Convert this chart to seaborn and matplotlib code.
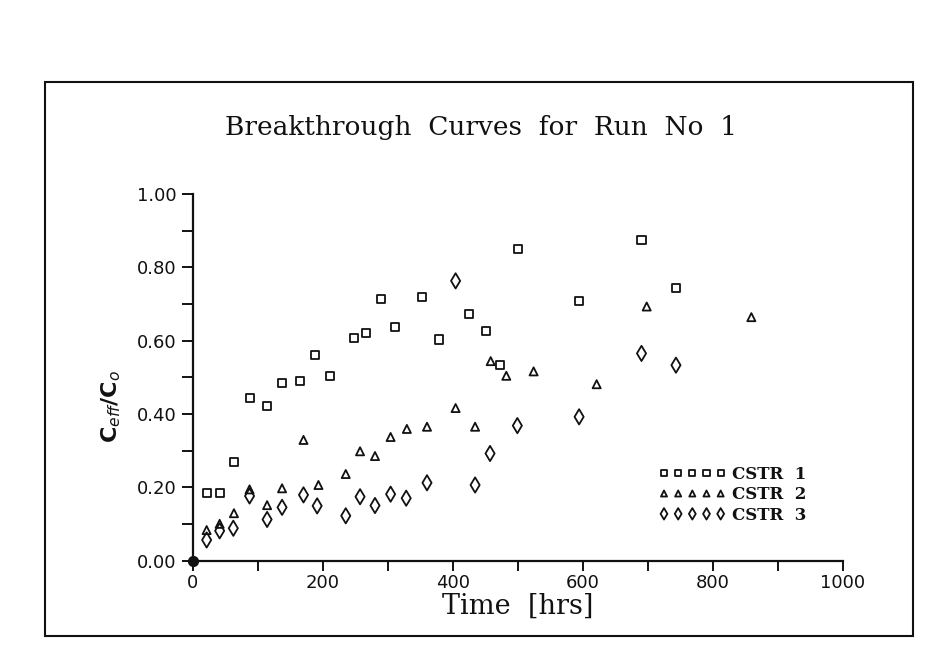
import numpy as np
import pandas as pd
import matplotlib
matplotlib.use("Agg")
import matplotlib.pyplot as plt
import seaborn as sns
from matplotlib.patches import Rectangle
from matplotlib.ticker import MultipleLocator, FormatStrFormatter

sns.set_style("ticks")
plt.rcParams['font.family'] = ['DejaVu Sans']
plt.rcParams['mathtext.fontset'] = 'dejavusans'

# ---- data ----
cstr1_t = [21, 41, 63, 87, 114, 137, 165, 188, 211, 247, 266, 289, 311, 353, 379,
           425, 451, 473, 500, 594, 690, 743]
cstr1_c = [0.185, 0.183, 0.269, 0.443, 0.421, 0.484, 0.489, 0.560, 0.503, 0.606,
           0.620, 0.713, 0.637, 0.718, 0.603, 0.672, 0.627, 0.533, 0.850, 0.708,
           0.875, 0.743]

cstr2_t = [21, 41, 63, 87, 114, 137, 170, 193, 235, 257, 280, 304, 329, 360, 404,
           434, 458, 482, 524, 621, 698, 859]
cstr2_c = [0.083, 0.100, 0.129, 0.194, 0.151, 0.197, 0.329, 0.206, 0.236, 0.298,
           0.285, 0.337, 0.359, 0.365, 0.416, 0.365, 0.544, 0.504, 0.516, 0.481,
           0.693, 0.664]

cstr3_t = [21, 41, 62, 87, 114, 137, 170, 191, 235, 257, 280, 304, 328, 360, 404,
           434, 457, 499, 594, 690, 743]
cstr3_c = [0.056, 0.081, 0.088, 0.176, 0.112, 0.145, 0.179, 0.149, 0.122, 0.174,
           0.150, 0.181, 0.170, 0.212, 0.763, 0.206, 0.292, 0.368, 0.392, 0.565,
           0.533]

origin_t = [0]
origin_c = [0.0]

series_labels = ["CSTR  1", "CSTR  2", "CSTR  3"]
x_ticks = [0, 200, 400, 600, 800, 1000]
y_ticks = [0.0, 0.2, 0.4, 0.6, 0.8, 1.0]

title = "Breakthrough  Curves  for  Run  No  1"
x_label = "Time  [hrs]"
y_label = r"C$_{\it{eff}}$/C$_{o}$"

# ---- figure ----
W, H = 943, 660
fig = plt.figure(figsize=(W / 100, H / 100), dpi=100)
fig.patch.set_facecolor("white")

ax = fig.add_axes([193 / W, 1 - 560.5 / H, 650 / W, 366.5 / H])
ax.set_facecolor("white")

ink = "#111111"
common = dict(facecolor="none", edgecolor=ink, linewidth=1.3, ax=ax, clip_on=False, zorder=3)
sns.scatterplot(x=cstr1_t, y=cstr1_c, marker="s", s=34, label=series_labels[0], **common)
sns.scatterplot(x=cstr2_t, y=cstr2_c, marker="^", s=34, label=series_labels[1], **common)
sns.scatterplot(x=cstr3_t, y=cstr3_c, marker="d", s=60, label=series_labels[2], **common)
ax.scatter(origin_t, origin_c, marker="o", s=50, color=ink, zorder=5, clip_on=False)

ax.set_xlim(0, 1000)
ax.set_ylim(0, 1.0)
ax.set_xticks(x_ticks)
ax.set_yticks(y_ticks)
ax.xaxis.set_minor_locator(MultipleLocator(100))
ax.yaxis.set_minor_locator(MultipleLocator(0.1))
ax.yaxis.set_major_formatter(FormatStrFormatter("%.2f"))

for side in ["top", "right"]:
    ax.spines[side].set_visible(False)
for side in ["left", "bottom"]:
    ax.spines[side].set_linewidth(1.6)
    ax.spines[side].set_color(ink)

ax.tick_params(axis="both", which="both", direction="out", length=8, width=1.4,
               color=ink, labelcolor=ink, labelsize=13, bottom=True, left=True,
               top=False, right=False)
ax.tick_params(axis="y", which="both", pad=4)
ax.tick_params(axis="x", which="both", pad=3, length=7)

ax.set_xlabel(x_label, family="DejaVu Serif", fontsize=19.5, color=ink, labelpad=0)
ax.set_ylabel(y_label, fontsize=16, color=ink, fontweight="bold")
ax.yaxis.set_label_coords(-0.108, 0.42)

fig.text(481 / W, 1 - 127 / H, title, family="DejaVu Serif", fontsize=19,
         ha="center", va="center", color=ink)

leg = ax.legend(loc="upper left", bbox_to_anchor=(659 / W, 1 - 466 / H),
                bbox_transform=fig.transFigure, frameon=False, scatterpoints=5,
                scatteryoffsets=[0.5], markerscale=0.75, handlelength=4.0,
                handletextpad=0.4, labelspacing=0.2, borderpad=0, borderaxespad=0,
                prop=dict(family="DejaVu Serif", size=12, weight="bold"))
for t in leg.get_texts():
    t.set_color(ink)

# surrounding frame
fig.patches.append(Rectangle((45 / W, 1 - 636 / H), 868 / W, 554 / H,
                             transform=fig.transFigure, fill=False,
                             edgecolor=ink, linewidth=1.5))

fig.savefig("out.png", dpi=100, facecolor="white")
